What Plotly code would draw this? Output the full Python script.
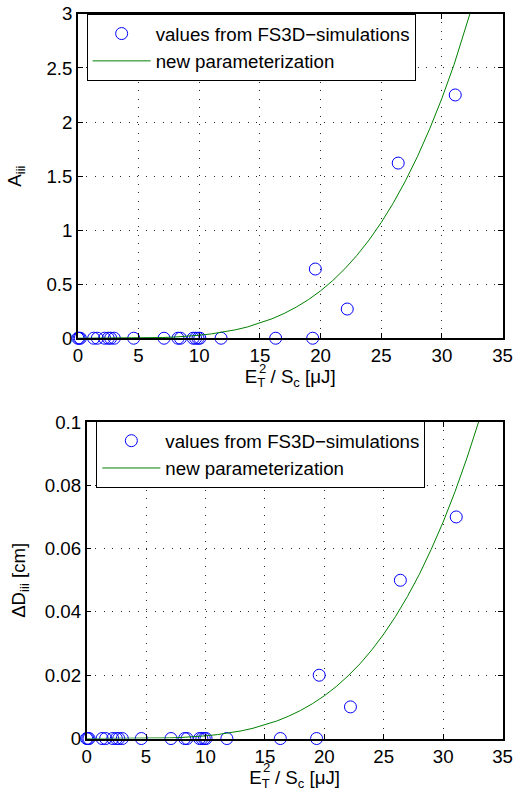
import plotly.graph_objects as go

# ---- data ----
sim_x = [0.0, 0.1, 0.2, 1.3, 1.6, 2.2, 2.5, 2.7, 3.0, 4.6, 7.1, 8.25, 8.45, 9.5, 9.7, 9.9,
         10.05, 11.8, 16.3, 19.35, 19.57, 22.2, 26.4, 31.1]
sim_A = [0] * 20 + [0.64, 0.27, 1.62, 2.25]
sim_dD = [0] * 20 + [0.02, 0.01, 0.05, 0.07]

fit_x = list(range(0, 35))
fit_A = [0, 0, 0.00004, 0.00022, 0.0007, 0.0017, 0.0036, 0.0066, 0.0112, 0.018, 0.0274,
         0.0401, 0.0568, 0.0783, 0.105, 0.139, 0.180, 0.229, 0.288, 0.357, 0.438, 0.533,
         0.642, 0.767, 0.909, 1.070, 1.252, 1.456, 1.684, 1.938, 2.219, 2.530, 2.873,
         3.249, 3.66]
fit_dD = [0, 0, 0.0000014, 0.0000068, 0.0000216, 0.000053, 0.00011, 0.000203, 0.000346,
          0.000554, 0.000845, 0.00124, 0.00175, 0.00241, 0.00325, 0.00428, 0.00554,
          0.00706, 0.00887, 0.0110, 0.0135, 0.0164, 0.0198, 0.0236, 0.0280, 0.0330,
          0.0386, 0.0449, 0.0519, 0.0598, 0.0684, 0.0780, 0.0886, 0.1002, 0.113]

legend_names = ["values from FS3D\u2212simulations", "new parameterization"]
x_title = "E<sub>T</sub> / S<sub>c</sub> [\u03bcJ]"
x_title_sup = "2"

FONT = "Liberation Sans, Arial, Helvetica, sans-serif"
FS = 18.7
BLUE = "rgb(0,0,255)"
GREEN = "rgb(0,128,0)"

fig = go.Figure()
fig.add_trace(go.Scatter(x=sim_x, y=sim_A, mode="markers", name=legend_names[0],
                         marker=dict(symbol="circle-open", size=12, color=BLUE,
                                     line=dict(width=1, color=BLUE)),
                         cliponaxis=False, xaxis="x", yaxis="y", legend="legend"))
fig.add_trace(go.Scatter(x=fit_x, y=fit_A, mode="lines", name=legend_names[1],
                         line=dict(color=GREEN, width=1), xaxis="x", yaxis="y",
                         legend="legend"))
fig.add_trace(go.Scatter(x=sim_x, y=sim_dD, mode="markers", name=legend_names[0],
                         marker=dict(symbol="circle-open", size=12, color=BLUE,
                                     line=dict(width=1, color=BLUE)),
                         cliponaxis=False, xaxis="x2", yaxis="y2", legend="legend2"))
fig.add_trace(go.Scatter(x=fit_x, y=fit_dD, mode="lines", name=legend_names[1],
                         line=dict(color=GREEN, width=1), xaxis="x2", yaxis="y2",
                         legend="legend2"))

W, H = 532, 807
axis_common = dict(showline=True, linecolor="black", linewidth=1.5, mirror="ticks",
                   ticks="inside", ticklen=5, tickcolor="black", tickwidth=1,
                   showgrid=True, gridcolor="rgba(0,0,0,0.85)", griddash="1px,7.5px",
                   gridwidth=1, zeroline=False,
                   tickfont=dict(size=FS, color="black", family=FONT))

fig.update_layout(
    width=W, height=H, margin=dict(l=0, r=0, t=0, b=0),
    paper_bgcolor="white", plot_bgcolor="white",
    font=dict(family=FONT, size=FS, color="black"),
    xaxis=dict(domain=[75 / W, 512 / W], range=[0, 35], dtick=5, anchor="y",
               title=dict(text=x_title, standoff=0, font=dict(size=FS)), **axis_common),
    yaxis=dict(domain=[1 - 337 / H, 1 - 4 / H], range=[0, 3], dtick=0.5, anchor="x",
               title=dict(text="A<sub>iii</sub>", standoff=20, font=dict(size=FS)),
               **axis_common),
    xaxis2=dict(domain=[84 / W, 512 / W], range=[0, 35], dtick=5, anchor="y2",
                title=dict(text=x_title, standoff=0, font=dict(size=FS)), **axis_common),
    yaxis2=dict(domain=[1 - 748 / H, 1 - 423 / H], range=[0, 0.1], dtick=0.02, anchor="x2",
                title=dict(text="\u0394D<sub>iii</sub> [cm]", standoff=14, font=dict(size=FS)),
                **axis_common),
    legend=dict(x=84 / W, y=1 - 4 / H, xanchor="left", yanchor="top",
                bordercolor="black", borderwidth=1, bgcolor="white",
                itemwidth=58, font=dict(size=FS), tracegroupgap=0),
    legend2=dict(x=94 / W, y=1 - 422 / H, xanchor="left", yanchor="top",
                 bordercolor="black", borderwidth=1, bgcolor="white",
                 itemwidth=58, font=dict(size=FS), tracegroupgap=0),
    showlegend=True,
    annotations=[
        dict(text=x_title_sup, xref="paper", yref="paper", x=265 / W, y=1 - 368 / H,
             showarrow=False, xanchor="center", yanchor="middle",
             font=dict(size=13.1, family=FONT, color="black")),
        dict(text=x_title_sup, xref="paper", yref="paper", x=269.5 / W, y=1 - 778 / H,
             showarrow=False, xanchor="center", yanchor="middle",
             font=dict(size=13.1, family=FONT, color="black")),
    ],
)

fig.write_html("out.html")
